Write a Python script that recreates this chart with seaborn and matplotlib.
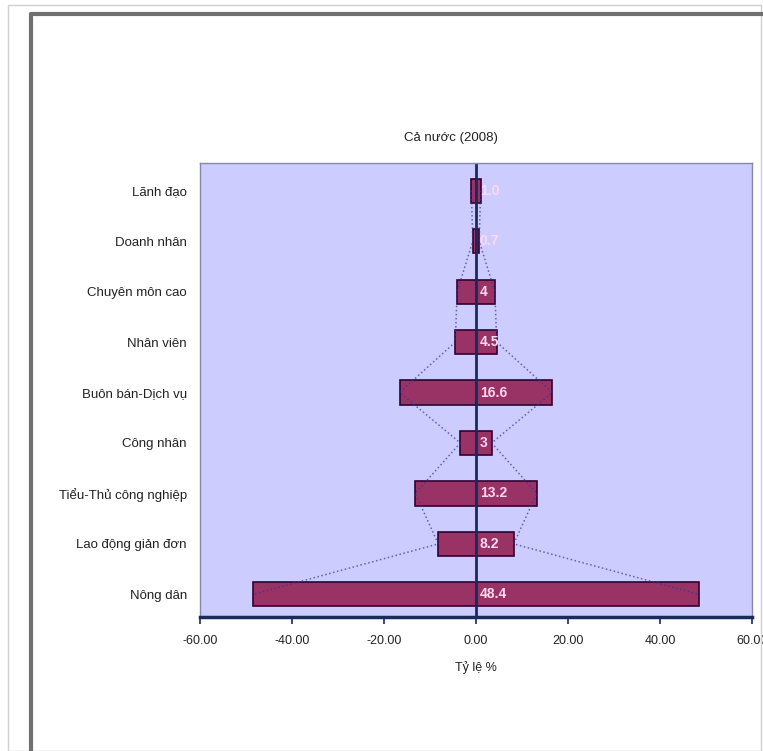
import numpy as np
import matplotlib.pyplot as plt
import seaborn as sns
from matplotlib.patches import Rectangle
from matplotlib.lines import Line2D

# Data (percent of workforce, whole country 2008)
categories = ["Lãnh đạo", "Doanh nhân", "Chuyên môn cao", "Nhân viên",
              "Buôn bán-Dịch vụ", "Công nhân", "Tiểu-Thủ công nghiệp",
              "Lao động giản đơn", "Nông dân"]
values = [1.0, 0.7, 4.1, 4.5, 16.6, 3.4, 13.2, 8.2, 48.4]
labels = ["1.0", "0.7", "4", "4.5", "16.6", "3", "13.2", "8.2", "48.4"]
xticks = [-60, -40, -20, 0, 20, 40, 60]

sns.set_style("white")
plt.rcParams['font.family'] = ['Liberation Sans', 'DejaVu Sans']

fig = plt.figure(figsize=(7.63, 7.51), dpi=100)
W, H = 763, 751

# outer frame of the chart area
fig.add_artist(Rectangle((8 / W, 0), (W - 10) / W, 1 - 5 / H, transform=fig.transFigure,
                         fill=False, edgecolor='#d0d0d0', lw=1))
fig.add_artist(Line2D([31 / W, 1], [1 - 14 / H] * 2, transform=fig.transFigure,
                      color='#707070', lw=3))
fig.add_artist(Line2D([31 / W] * 2, [0, 1 - 14 / H], transform=fig.transFigure,
                      color='#707070', lw=3))

ax = fig.add_axes([200 / W, 1 - 617 / H, 552 / W, (617 - 163) / H])
ax.set_facecolor('#ccccff')

neg = [-v for v in values]
sns.barplot(x=values, y=categories, orient='h', color='#993366', saturation=1,
            edgecolor='#330033', linewidth=1.2, width=0.48, ax=ax)
sns.barplot(x=neg, y=categories, orient='h', color='#993366', saturation=1,
            edgecolor='#330033', linewidth=1.2, width=0.48, ax=ax)

# dotted outline connecting bar ends
pos = np.arange(len(categories))
ax.plot(values, pos, linestyle=':', color='#333399', lw=1.1, alpha=0.7)
ax.plot(neg, pos, linestyle=':', color='#333399', lw=1.1, alpha=0.7)

ax.axvline(0, color='#1a2a5a', lw=2)

for p, lab in zip(pos, labels):
    ax.text(0.8, p, lab, color='#ffd9f0', fontsize=10, fontweight='bold',
            va='center', ha='left')

ax.set_xlim(-60, 60)
ax.set_ylim(len(categories) - 0.55, -0.55)
ax.set_xticks(xticks)
ax.set_xticklabels([f"{t:.2f}" for t in xticks])
ax.tick_params(axis='x', bottom=True, direction='out', length=5, width=1.2,
               color='#1a2a5a', labelsize=9, pad=8, labelcolor='#222222')
ax.tick_params(axis='y', left=False, labelsize=9.5, pad=6, labelcolor='#222222')
ax.set_ylabel("")
ax.set_xlabel("Tỷ lệ %", fontsize=9, color='#222222', labelpad=10)

for s in ['top', 'left', 'right']:
    ax.spines[s].set_color('#8888aa')
    ax.spines[s].set_linewidth(1)
ax.spines['bottom'].set_color('#1a2a5a')
ax.spines['bottom'].set_linewidth(2.5)

fig.text(451 / W, 1 - 138 / H, "Cả nước (2008)", ha='center', va='center',
         fontsize=9.5, color='#222222')

plt.savefig("out.png", dpi=100)
